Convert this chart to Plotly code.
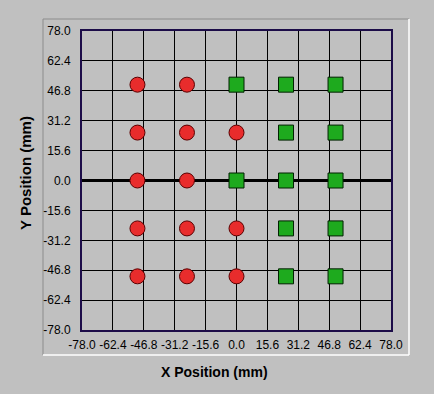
import plotly.graph_objects as go

W, H = 434, 394
L, R, T, B = 82, 391, 31, 330  # plot area pixel bounds

circle_x = [-50, -25, -50, -25, 0, -50, -25, -50, -25, 0, -50, -25, 0]
circle_y = [50, 50, 25, 25, 25, 0, 0, -25, -25, -25, -50, -50, -50]
square_x = [0, 25, 50, 25, 50, 0, 25, 50, 25, 50, 25, 50]
square_y = [50, 50, 50, 25, 25, 0, 0, 0, -25, -25, -50, -50]
tick_vals = [-78.0, -62.4, -46.8, -31.2, -15.6, 0.0, 15.6, 31.2, 46.8, 62.4, 78.0]
tick_text = ["%.1f" % v for v in tick_vals]

BG = "#c0c0c0"
FONT = "Liberation Sans, Arial, sans-serif"

fig = go.Figure()
fig.add_trace(go.Scatter(
    x=circle_x, y=circle_y, mode="markers",
    marker=dict(symbol="circle", size=15, color="#e82c2c",
                line=dict(color="#5a0000", width=1)),
    showlegend=False, hoverinfo="x+y"))
fig.add_trace(go.Scatter(
    x=square_x, y=square_y, mode="markers",
    marker=dict(symbol="square", size=15, color="#1eaa1e",
                line=dict(color="#002000", width=1)),
    showlegend=False, hoverinfo="x+y"))

def px2paper_x(p):
    return (p - L) / (R - L)

def px2paper_y(p):
    return (B - p) / (B - T)

shapes = []
# sunken panel frame
fl, fr, ft, fb = 43, 409, 19, 355
shapes.append(dict(type="line", xref="paper", yref="paper",
                   x0=px2paper_x(fl), x1=px2paper_x(fr), y0=px2paper_y(ft), y1=px2paper_y(ft),
                   line=dict(color="#8c8c8c", width=1), layer="below"))
shapes.append(dict(type="line", xref="paper", yref="paper",
                   x0=px2paper_x(fl), x1=px2paper_x(fl), y0=px2paper_y(ft), y1=px2paper_y(fb),
                   line=dict(color="#8c8c8c", width=1), layer="below"))
shapes.append(dict(type="line", xref="paper", yref="paper",
                   x0=px2paper_x(fl), x1=px2paper_x(fr), y0=px2paper_y(fb), y1=px2paper_y(fb),
                   line=dict(color="#ffffff", width=1.5), layer="below"))
shapes.append(dict(type="line", xref="paper", yref="paper",
                   x0=px2paper_x(fr), x1=px2paper_x(fr), y0=px2paper_y(ft), y1=px2paper_y(fb),
                   line=dict(color="#ffffff", width=1.5), layer="below"))
# thick zero line
shapes.append(dict(type="line", xref="paper", yref="y",
                   x0=0, x1=1, y0=0, y1=0,
                   line=dict(color="#000000", width=3), layer="below"))

fig.update_layout(
    width=W, height=H,
    margin=dict(l=L, r=W - R, t=T, b=H - B, autoexpand=False),
    paper_bgcolor=BG, plot_bgcolor=BG,
    font=dict(family=FONT, size=12, color="#000000"),
    shapes=shapes,
    annotations=[
        dict(text="<b>X Position (mm)</b>", xref="paper", yref="paper",
             x=px2paper_x(214), y=px2paper_y(372), showarrow=False,
             font=dict(size=14, family=FONT), xanchor="center", yanchor="middle"),
        dict(text="<b>Y Position (mm)</b>", xref="paper", yref="paper",
             x=px2paper_x(25), y=px2paper_y(173), showarrow=False, textangle=-90,
             font=dict(size=15, family=FONT), xanchor="center", yanchor="middle"),
    ],
)
axis_common = dict(
    range=[-78, 78], tickmode="array", tickvals=tick_vals, ticktext=tick_text,
    showgrid=True, gridcolor="#000000", gridwidth=1,
    zeroline=False, showline=True, linecolor="#1c0c48", linewidth=2, mirror=True,
    ticks="", tickfont=dict(size=12, family=FONT, color="#000000"),
    fixedrange=True,
)
fig.update_xaxes(**axis_common, ticklabelstandoff=3)
fig.update_yaxes(**axis_common, ticklabelstandoff=7)

fig.write_html(
    "out.html",
    config={"displayModeBar": False},
    post_script="document.body.style.margin='0';document.body.style.background='#c0c0c0';document.body.style.overflow='hidden';",
)
